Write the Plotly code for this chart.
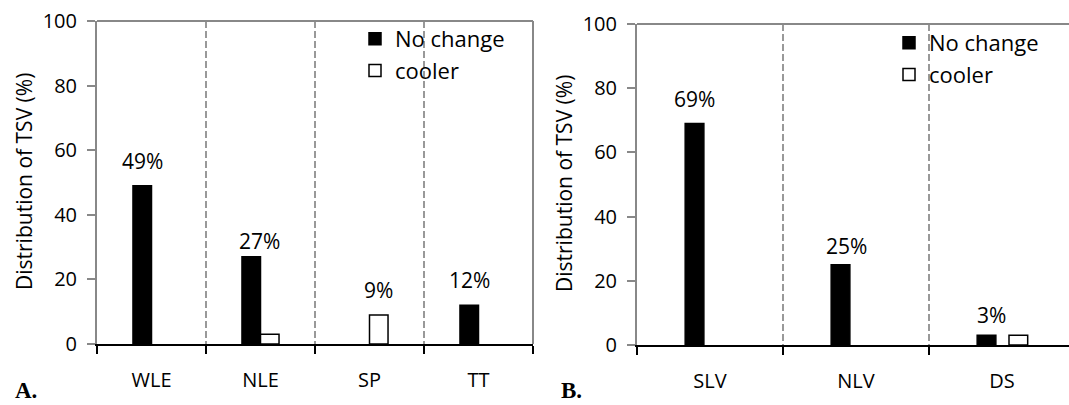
import plotly.graph_objects as go

# panel A
left_cats = ["WLE", "NLE", "SP", "TT"]
left_no_change = [49, 27, 0, 12]
left_cooler = [0, 3, 9, 0]

# panel B
right_cats = ["SLV", "NLV", "DS"]
right_no_change = [69, 25, 3]
right_cooler = [0, 0, 3]

y_ticks = [0, 20, 40, 60, 80, 100]

FONT = "Open Sans"
GRAY = "#888888"
W, H = 1069, 405

# small hand nudges (px) for a few labels that sit off the bar centre
LABEL_NUDGE = {"NLE": (8, -9), "NLV": (6, -6), "DS": (5, -5)}

fig = go.Figure()


def _hide_zero(vals):
    # Excel draws nothing for a 0 value; plotly would draw a hairline outline
    return [v if v else None for v in vals]


def add_panel(cats, no_change, cooler, xa, ya, legend, bar_w, off_black, off_white):
    fig.add_trace(go.Bar(
        x=cats, y=_hide_zero(no_change), name="No change", width=bar_w, offset=off_black,
        marker=dict(color="black", line=dict(color="black", width=1.5)),
        xaxis=xa, yaxis=ya, legend=legend, legendgroup=legend + "nc",
    ))
    fig.add_trace(go.Bar(
        x=cats, y=_hide_zero(cooler), name="cooler", width=bar_w, offset=off_white,
        marker=dict(color="white", line=dict(color="black", width=1.5)),
        xaxis=xa, yaxis=ya, legend=legend, legendgroup=legend + "co",
    ))
    for i, (cat, a, b) in enumerate(zip(cats, no_change, cooler)):
        if b > a:
            val, xc = b, i + off_white + bar_w / 2
        else:
            val, xc = a, i + off_black + bar_w / 2
        dx, dy = LABEL_NUDGE.get(cat, (0, 0))
        fig.add_annotation(
            x=xc, y=val, xref=xa, yref=ya, text=f"{val}%", showarrow=False,
            xanchor="center", yanchor="middle", xshift=dx, yshift=25 + dy,
            font=dict(family=FONT, size=21, color="black"),
        )


add_panel(left_cats, left_no_change, left_cooler, "x", "y", "legend", 0.17, -0.17, 0.0)
add_panel(right_cats, right_no_change, right_cooler, "x2", "y2", "legend2", 0.128, -0.17, 0.048)

xaxis_common = dict(
    type="category", tickson="boundaries", ticks="outside", ticklen=8, tickwidth=2,
    tickcolor="black", showline=True, linecolor="black", linewidth=2,
    showgrid=True, gridcolor="#999999", gridwidth=2, griddash="7px,3px",
    tickfont=dict(family=FONT, size=20, color="black"), ticklabelstandoff=17,
    zeroline=False, fixedrange=True, automargin=False,
)
yaxis_common = dict(
    range=[0, 100], tickvals=y_ticks, ticks="outside", ticklen=8, tickwidth=2,
    tickcolor=GRAY, showline=True, linecolor=GRAY, linewidth=2, showgrid=False,
    zeroline=False, tickfont=dict(family=FONT, size=20, color="black"),
    ticklabelstandoff=6, fixedrange=True, automargin=False,
)

fig.update_layout(
    width=W, height=H,
    margin=dict(l=0, r=0, t=0, b=0),
    paper_bgcolor="white", plot_bgcolor="white",
    barmode="overlay",
    xaxis=dict(xaxis_common, domain=[97 / W, 533 / W], range=[-0.5, 3.5], anchor="y"),
    yaxis=dict(yaxis_common, domain=[1 - 344 / H, 1 - 21 / H], anchor="x"),
    xaxis2=dict(xaxis_common, domain=[637 / W, 1.0], range=[-0.5, 2.459], anchor="y2"),
    yaxis2=dict(yaxis_common, domain=[1 - 345 / H, 1 - 24 / H], anchor="x2"),
    legend=dict(
        x=355 / W, y=1 - 18 / H, xanchor="left", yanchor="top",
        bgcolor="rgba(0,0,0,0)", font=dict(family=FONT, size=22, color="black"),
        tracegroupgap=0,
    ),
    legend2=dict(
        x=889 / W, y=1 - 22 / H, xanchor="left", yanchor="top",
        bgcolor="rgba(0,0,0,0)", font=dict(family=FONT, size=22, color="black"),
        tracegroupgap=0,
    ),
    showlegend=True,
)

# plot-area border (top + right), the Excel-style frame
for xr, yr, right in [("x", "y", True), ("x2", "y2", False)]:
    fig.add_shape(type="line", xref=f"{xr} domain", yref=f"{yr} domain",
                  x0=0, x1=1, y0=1, y1=1, line=dict(color=GRAY, width=2))
    if right:
        fig.add_shape(type="line", xref=f"{xr} domain", yref=f"{yr} domain",
                      x0=1, x1=1, y0=0, y1=1, line=dict(color=GRAY, width=2))

# y-axis titles
for xpos, ymid in [(24 / W, 1 - 182 / H), (564 / W, 1 - 184 / H)]:
    fig.add_annotation(
        x=xpos, y=ymid, xref="paper", yref="paper", text="Distribution of TSV (%)",
        textangle=-90, showarrow=False, xanchor="center", yanchor="middle",
        font=dict(family=FONT, size=21, color="black"),
    )

# panel letters
for xpos, letter in [(13 / W, "A."), (559 / W, "B.")]:
    fig.add_annotation(
        x=xpos, y=0, xref="paper", yref="paper", text=f"<b>{letter}</b>",
        showarrow=False, xanchor="left", yanchor="bottom",
        font=dict(family="Liberation Serif", size=23, color="black"),
    )

# drop the browser's default 8px body margin so the 1069x405 figure fills the window
fig.write_html(
    "out.html",
    config={"displayModeBar": False},
    post_script="document.body.style.margin='0';",
)
